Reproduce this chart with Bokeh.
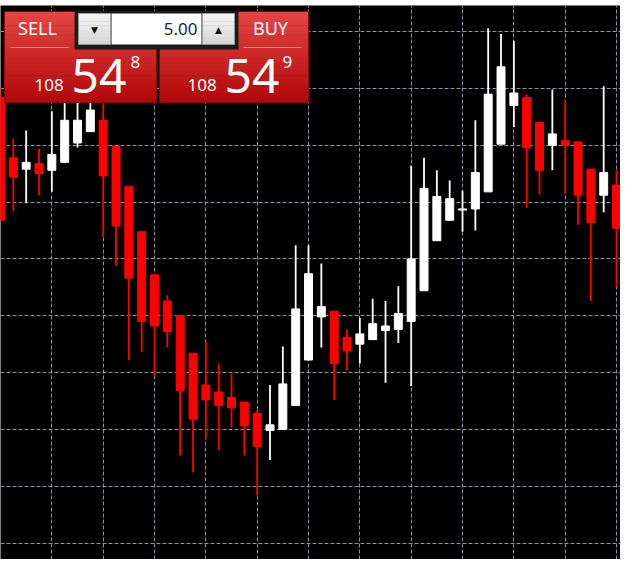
from bokeh.plotting import figure
from bokeh.models import FixedTicker, BoxAnnotation, Label
from bokeh.embed import file_html
from bokeh.resources import INLINE

# ---------------- data ----------------
bar_index = list(range(49))
open_ = [108.692, 108.639, 108.629, 108.634, 108.628, 108.635, 108.652, 108.662, 108.672, 108.649,
         108.614, 108.574, 108.536, 108.513, 108.500, 108.467, 108.439, 108.433, 108.428, 108.424,
         108.414, 108.399, 108.400, 108.421, 108.461, 108.499, 108.504, 108.481, 108.475, 108.479,
         108.487, 108.488, 108.495, 108.522, 108.566, 108.584, 108.593, 108.594, 108.609, 108.651,
         108.685, 108.692, 108.670, 108.650, 108.654, 108.653, 108.629, 108.606, 108.615]
high = [108.701, 108.656, 108.663, 108.647, 108.680, 108.689, 108.688, 108.689, 108.686, 108.649,
        108.614, 108.574, 108.536, 108.518, 108.500, 108.467, 108.477, 108.458, 108.449, 108.424,
        108.417, 108.439, 108.473, 108.562, 108.562, 108.546, 108.504, 108.488, 108.498, 108.515,
        108.513, 108.526, 108.632, 108.639, 108.628, 108.619, 108.610, 108.672, 108.753, 108.748,
        108.742, 108.695, 108.670, 108.699, 108.690, 108.653, 108.629, 108.702, 108.628]
low = [108.584, 108.592, 108.599, 108.606, 108.609, 108.635, 108.648, 108.662, 108.569, 108.544,
       108.461, 108.468, 108.447, 108.472, 108.377, 108.362, 108.392, 108.382, 108.402, 108.377,
       108.342, 108.373, 108.400, 108.421, 108.461, 108.472, 108.426, 108.452, 108.458, 108.479,
       108.441, 108.476, 108.438, 108.522, 108.566, 108.584, 108.574, 108.575, 108.609, 108.651,
       108.666, 108.595, 108.607, 108.628, 108.607, 108.580, 108.513, 108.591, 108.525]
close = [108.584, 108.622, 108.635, 108.625, 108.642, 108.672, 108.672, 108.681, 108.623, 108.579,
         108.533, 108.495, 108.491, 108.486, 108.434, 108.409, 108.426, 108.421, 108.419, 108.403,
         108.385, 108.404, 108.440, 108.506, 108.537, 108.508, 108.458, 108.469, 108.484, 108.493,
         108.491, 108.502, 108.550, 108.612, 108.605, 108.603, 108.594, 108.626, 108.695, 108.719,
         108.696, 108.648, 108.628, 108.660, 108.650, 108.606, 108.582, 108.626, 108.577]

grid_x_ticks = [0, 4, 8, 12, 16, 20, 24, 28, 32, 36, 40, 44, 48]
grid_y_ticks = [108.30, 108.35, 108.40, 108.45, 108.50, 108.55, 108.60, 108.65, 108.70, 108.75]

lot_text = "5.00"
bid_pre, bid_big, bid_post = "108", "54", "8"
ask_pre, ask_big, ask_post = "108", "54", "9"

BULL = "#ffffff"
BEAR = "#ff0000"

W, H = 620, 559

# ---------------- figure ----------------
p = figure(width=W, height=H, x_range=(0, 48.31), y_range=(108.2855, 108.773),
           output_backend="svg", toolbar_location=None,
           background_fill_color="#000000", border_fill_color="#ffffff",
           min_border_left=0, min_border_right=0, min_border_bottom=0, min_border_top=5,
           outline_line_color=None)
p.xaxis.visible = False
p.yaxis.visible = False
p.xgrid.ticker = FixedTicker(ticks=grid_x_ticks)
p.ygrid.ticker = FixedTicker(ticks=grid_y_ticks)
for g in (p.xgrid, p.ygrid):
    g.grid_line_color = "#8896a4"
    g.grid_line_dash = "4 2"
    g.grid_line_width = 1

colors = [BULL if c >= o else BEAR for o, c in zip(open_, close)]
tops = [max(o, c) for o, c in zip(open_, close)]
bottoms = [min(o, c) for o, c in zip(open_, close)]

p.segment(x0=bar_index, y0=low, x1=bar_index, y1=high, line_color=colors, line_width=1.8)
p.vbar(x=bar_index, width=0.62, top=tops, bottom=bottoms,
       fill_color=colors, line_color=colors, line_width=1)

# ---------------- trade panel (screen units, y measured from the top here) ----------------
def hex_mix(c1, c2, t):
    a = [int(c1[i:i + 2], 16) for i in (1, 3, 5)]
    b = [int(c2[i:i + 2], 16) for i in (1, 3, 5)]
    return "#%02x%02x%02x" % tuple(round(a[k] + (b[k] - a[k]) * t) for k in range(3))

def box(l, r, t, b, fill=None, line=None, lw=1):
    p.add_layout(BoxAnnotation(left=l, right=r, top=H - t, bottom=H - b,
                               left_units="screen", right_units="screen",
                               top_units="screen", bottom_units="screen",
                               fill_color=fill, fill_alpha=1 if fill else 0,
                               line_color=line, line_alpha=1 if line else 0,
                               line_width=lw))

def grad(l, r, t, b, c1, c2, n=20):
    h = (b - t) / n
    for k in range(n):
        box(l, r, t + k * h, t + (k + 1) * h + 0.6, fill=hex_mix(c1, c2, k / (n - 1)))

def label(x, y, text, size, color="#ffffff", align="left", font="Noto Sans", baseline="alphabetic"):
    p.add_layout(Label(x=x, y=H - y, x_units="screen", y_units="screen", text=text,
                       text_font=font, text_font_size=f"{size}px", text_color=color,
                       text_align=align, text_baseline=baseline))

# red blocks
grad(4, 156, 11, 102, "#e64444", "#b10909")
grad(159, 308, 11, 102, "#e64444", "#b10909")
box(4, 156, 11, 102, line="#8e0505")
box(159, 308, 11, 102, line="#8e0505")
# lot size control
box(74, 238, 10, 49, fill="#1b1b1b")
grad(78, 110, 13, 44, "#f4f4f4", "#d6d6d6", n=8)
box(111, 201, 13, 44, fill="#ffffff")
grad(202, 234, 13, 44, "#f4f4f4", "#d6d6d6", n=8)
box(78, 110, 13, 44, line="#9a9a9a")
box(202, 234, 13, 44, line="#9a9a9a")
label(94, 29, "\u25bc", 9, color="#111111", align="center", font="DejaVu Sans")
label(218, 29, "\u25b2", 9, color="#111111", align="center", font="DejaVu Sans")
label(197, 28, lot_text, 17, color="#1a2540", align="right")
# button captions + underline
label(37, 27, "SELL", 18, align="center")
label(270, 27, "BUY", 18, align="center")
box(10, 68, 46.5, 47.5, fill="#f08a8a")
box(243, 301, 46.5, 47.5, fill="#f08a8a")
# prices
label(34, 84, bid_pre, 17)
label(71, 75, bid_big, 48)
label(130, 61, bid_post, 17)
label(187, 84, ask_pre, 17)
label(224, 75, ask_big, 48)
label(282, 61, ask_post, 17)

open("out.html", "w").write(file_html(p, INLINE))
